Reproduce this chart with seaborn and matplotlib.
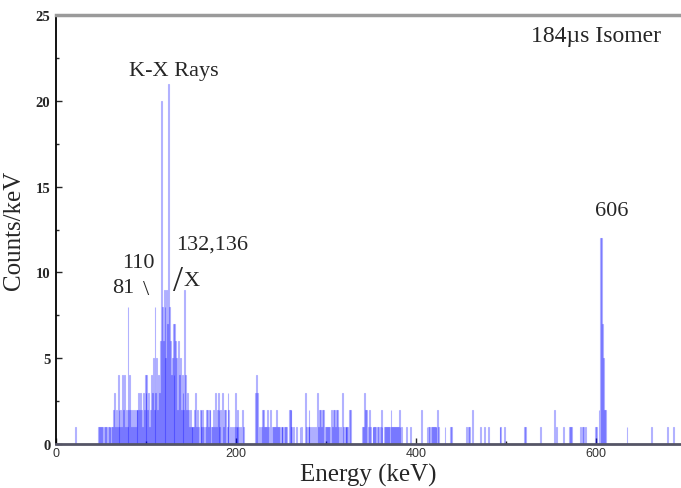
import numpy as np
import pandas as pd
import matplotlib
matplotlib.use('Agg')
import matplotlib.pyplot as plt
import seaborn as sns

# spectrum, 1 keV bins, only the non-empty channels
low_energy = [22, 47, 48, 49, 51, 52, 54, 55, 56, 58, 59, 60,
              62, 63, 64, 65, 66, 67, 68, 69, 70, 71, 72, 73, 74, 75, 76, 77, 78, 79,
              80, 81, 82, 83, 84, 85, 86, 87, 88, 89, 90, 91, 92, 93, 94, 95, 96, 97, 98, 99,
              100, 101, 102, 103, 104, 105, 106, 107, 108, 109, 110, 111, 112, 113, 114, 115,
              116, 117, 118, 119, 120, 121, 122, 123, 124, 125, 126, 127, 128, 129, 130, 131,
              132, 133, 134, 135, 136, 137, 138, 139, 140, 141, 142, 143, 144, 145, 146, 147,
              148, 149, 150, 151, 152, 153, 154, 155, 156, 157, 158, 160, 161, 162, 163, 164,
              166, 167, 168, 169, 170, 171, 173, 174, 175, 176, 177, 178, 179, 180, 181, 182,
              183, 185, 186, 187, 188, 190, 191, 192, 194, 196, 198, 199, 200, 201, 202, 203,
              205, 207, 208]
low_counts = [1, 1, 1, 1, 1, 1, 1, 1, 1, 1, 1, 1,
              1, 1, 2, 3, 1, 2, 1, 4, 2, 1, 2, 1, 4, 2, 4, 1, 2, 1,
              8, 2, 4, 2, 1, 2, 1, 2, 1, 2, 2, 2, 3, 2, 3, 2, 1, 3, 2, 4,
              3, 4, 2, 3, 1, 2, 4, 3, 5, 2, 8, 3, 5, 2, 4, 3,
              6, 20, 8, 6, 9, 8, 5, 9, 7, 21, 8, 6, 4, 5, 7, 4,
              7, 6, 5, 2, 6, 4, 5, 2, 4, 3, 2, 9, 4, 2, 3, 2,
              1, 2, 1, 1, 1, 1, 2, 3, 1, 2, 1, 2, 2, 1, 2, 1,
              1, 2, 2, 1, 2, 2, 1, 1, 2, 1, 3, 1, 2, 3, 2, 1,
              2, 3, 1, 2, 2, 1, 3, 2, 1, 1, 1, 3, 1, 1, 2, 1,
              1, 2, 1]

mid_energy = [222, 223, 224, 226, 228, 229, 230, 232, 233, 234, 235, 236, 238, 240,
              242, 243, 244, 245, 246, 247, 248, 250, 251, 252, 254, 255, 256, 259, 260,
              261, 262, 264, 267, 271, 273, 277, 278, 280, 281, 282, 284, 286, 288, 290,
              291, 293, 294, 295, 296, 297, 299, 300, 301, 303, 304, 306, 307, 308, 309,
              310, 311, 313, 314, 316, 318, 319, 321, 322, 323, 324, 326, 327,
              340, 341, 343, 344, 345, 347, 348, 349, 352, 353, 354, 355, 357, 358, 360,
              361, 362, 365, 366, 367, 368, 369, 370, 372, 373, 374, 375, 376, 377, 378,
              379, 380, 381, 382, 384, 389, 394, 406, 412]
mid_counts = [3, 4, 3, 1, 1, 2, 2, 1, 1, 1, 2, 1, 2, 1,
              1, 1, 1, 2, 1, 1, 1, 1, 1, 1, 1, 1, 1, 2, 2,
              2, 1, 1, 1, 1, 1, 3, 1, 1, 2, 1, 1, 1, 1, 3,
              1, 2, 2, 1, 2, 2, 1, 1, 1, 1, 1, 2, 1, 2, 2,
              1, 2, 2, 1, 1, 3, 1, 1, 1, 1, 1, 2, 2,
              1, 1, 3, 2, 2, 1, 2, 1, 1, 1, 1, 1, 1, 1, 1,
              2, 1, 1, 1, 1, 1, 1, 1, 2, 1, 1, 1, 1, 1, 1,
              1, 1, 2, 1, 1, 1, 1, 2, 1]

high_energy = [414, 415, 417, 418, 419, 420, 421, 422, 424, 425, 432, 438, 439, 456,
               458, 459, 462, 471, 476, 480, 493, 494, 498, 520, 521,
               538, 554, 556, 564, 570, 571, 572, 582, 585, 586, 588, 599, 600,
               603, 605, 606, 607, 608, 609, 610, 634, 661, 679, 686]
high_counts = [1, 1, 1, 1, 1, 1, 1, 1, 2, 1, 1, 1, 1, 1,
               1, 1, 2, 1, 1, 1, 1, 1, 1, 1, 1,
               1, 2, 1, 1, 1, 1, 1, 1, 1, 1, 1, 1, 1,
               2, 12, 12, 7, 5, 2, 2, 1, 1, 1, 1]

df = pd.DataFrame({'energy': low_energy + mid_energy + high_energy,
                   'counts': low_counts + mid_counts + high_counts})

sns.set_style('ticks')
plt.rcParams['font.family'] = ['Liberation Serif', 'DejaVu Sans']

fig = plt.figure(figsize=(6.81, 4.89), dpi=100)
ax = fig.add_axes([0.0822, 0.09, 0.9178, 0.877])

sns.histplot(data=df, x='energy', weights='counts', discrete=True,
             element='bars', fill=False, color='#0000ff', alpha=0.3,
             linewidth=0.8, ax=ax)

ax.set_xlim(0, 694)
ax.set_ylim(0, 25)
ax.set_xticks([0, 200, 400, 600])
ax.set_xticks([100, 300, 500], minor=True)
ax.set_yticks([0, 5, 10, 15, 20, 25])
ax.set_yticks([2.5, 7.5, 12.5, 17.5, 22.5], minor=True)
ax.tick_params(axis='both', which='major', direction='in', length=4, width=1)
ax.tick_params(axis='both', which='minor', direction='in', length=2.5, width=1)
ax.tick_params(axis='x', pad=2, labelsize=9, labelcolor='#333333')
ax.tick_params(axis='y', pad=4, labelsize=10.5)
for t in ax.get_xticklabels():
    t.set_family('Liberation Sans')
for t in ax.get_yticklabels():
    t.set_fontweight('bold')

ax.spines['right'].set_visible(False)
ax.spines['top'].set_color('#9a9a9a')
ax.spines['top'].set_linewidth(2.5)
ax.spines['bottom'].set_color('#555566')
ax.spines['bottom'].set_linewidth(2)
ax.spines['left'].set_color('black')
ax.spines['left'].set_linewidth(1.3)

ax.set_xlabel('Energy (keV)', fontsize=18, labelpad=3)
ax.set_ylabel('Counts/keV', fontsize=18, labelpad=8)

ax.text(131, 21.8, 'K-X Rays', fontsize=16, ha='center', va='center')
ax.text(600, 23.8, '184\u00b5s Isomer', fontsize=17, ha='center', va='center')
ax.text(617, 13.6, '606', fontsize=16, ha='center', va='center')
ax.text(173, 11.65, '132,136', fontsize=16, ha='center', va='center')
ax.text(135.5, 9.5, '/', fontsize=26, ha='center', va='center')
ax.text(151, 9.55, 'X', fontsize=16, ha='center', va='center')
ax.text(92, 10.6, '110', fontsize=16, ha='center', va='center')
ax.text(74.5, 9.1, '81', fontsize=16, ha='center', va='center')
ax.text(100, 9.0, '\\', fontsize=16, ha='center', va='center')

fig.savefig('out.png', dpi=100)
